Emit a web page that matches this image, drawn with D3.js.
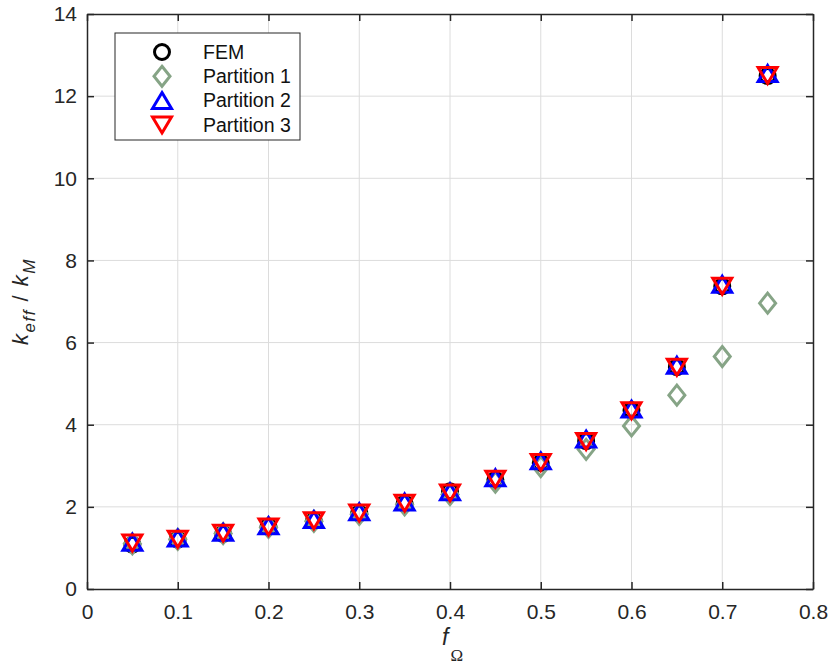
<!DOCTYPE html>
<html>
	<head>
		<meta charset="utf-8">
		<script src="https://d3js.org/d3.v7.min.js"></script>
		<style>
			body {
				margin: 0;
				background-color: white;
			}

			svg {
				display: block;
				font-family: "Liberation Sans", Arial, sans-serif;
			}
		</style>
	</head>
	<body>
		<svg width="829" height="665"></svg>
		<script>
			var fOmega = [0.05, 0.10, 0.15, 0.20, 0.25, 0.30, 0.35, 0.40, 0.45, 0.50, 0.55, 0.60, 0.65, 0.70, 0.75]
			var fem = [1.08, 1.20, 1.34, 1.52, 1.66, 1.84, 2.08, 2.38, 2.66, 3.07, 3.60, 4.35, 5.40, 7.37, 12.49]
			var partition1 = [1.10, 1.21, 1.35, 1.50, 1.65, 1.82, 2.05, 2.30, 2.60, 2.98, 3.40, 3.97, 4.72, 5.66, 6.96]
			var partition2 = [1.14, 1.24, 1.38, 1.54, 1.69, 1.88, 2.12, 2.37, 2.71, 3.12, 3.65, 4.38, 5.45, 7.42, 12.55]
			var partition3 = [1.12, 1.21, 1.36, 1.51, 1.66, 1.85, 2.09, 2.34, 2.67, 3.08, 3.59, 4.34, 5.40, 7.37, 12.50]
			var seriesNames = ["FEM", "Partition 1", "Partition 2", "Partition 3"]
			var xTicks = [0, 0.1, 0.2, 0.3, 0.4, 0.5, 0.6, 0.7, 0.8]
			var yTicks = [0, 2, 4, 6, 8, 10, 12, 14]

			var margin = { left: 87, top: 14, right: 16, bottom: 76 }
			var width = 829 - margin.left - margin.right
			var height = 665 - margin.top - margin.bottom
			var axisColor = "#262626"
			var gridColor = "#dcdcdc"

			var svg = d3.select("svg")
			var g = svg.append("g").attr("transform", "translate(" + margin.left + "," + margin.top + ")")

			var x = d3.scaleLinear().domain([0, 0.8]).range([0, width])
			var y = d3.scaleLinear().domain([0, 14]).range([height, 0])

			// marker shapes, drawn around (0,0)
			var shapes = {
				circle: "M7.5,0A7.5,7.5 0 1,1 -7.5,0A7.5,7.5 0 1,1 7.5,0Z",
				diamond: "M0,-10L8,0L0,10L-8,0Z",
				up: "M0,-8L9.5,8L-9.5,8Z",
				down: "M0,8L9.5,-8L-9.5,-8Z"
			}

			var series = [
				{ name: seriesNames[0], values: fem, shape: "circle", color: "#000000" },
				{ name: seriesNames[1], values: partition1, shape: "diamond", color: "#86a486" },
				{ name: seriesNames[2], values: partition2, shape: "up", color: "#0000ff" },
				{ name: seriesNames[3], values: partition3, shape: "down", color: "#ff0000" }
			]

			// grid
			g.append("g").selectAll("line.gx")
				.data(xTicks.slice(1, -1))
				.join("line")
				.attr("x1", d => x(d)).attr("x2", d => x(d))
				.attr("y1", 0).attr("y2", height)
				.attr("stroke", gridColor).attr("stroke-width", 1)

			g.append("g").selectAll("line.gy")
				.data(yTicks.slice(1, -1))
				.join("line")
				.attr("x1", 0).attr("x2", width)
				.attr("y1", d => y(d)).attr("y2", d => y(d))
				.attr("stroke", gridColor).attr("stroke-width", 1)

			// axes
			function styleAxis(sel) {
				sel.select(".domain").attr("stroke", axisColor).attr("stroke-width", 1.5)
				sel.selectAll(".tick line").attr("stroke", axisColor).attr("stroke-width", 1.5)
				sel.selectAll(".tick text").attr("fill", axisColor).attr("font-size", 21)
			}

			g.append("g")
				.attr("transform", "translate(0," + height + ")")
				.call(d3.axisBottom(x).tickValues(xTicks).tickFormat(d3.format("")).tickSizeInner(-7).tickSizeOuter(0).tickPadding(15))
				.call(styleAxis)

			g.append("g")
				.call(d3.axisLeft(y).tickValues(yTicks).tickSizeInner(-7).tickSizeOuter(0).tickPadding(10))
				.call(styleAxis)

			g.append("g")
				.call(d3.axisTop(x).tickValues(xTicks).tickFormat("").tickSizeInner(-7).tickSizeOuter(0))
				.call(styleAxis)

			g.append("g")
				.attr("transform", "translate(" + width + ",0)")
				.call(d3.axisRight(y).tickValues(yTicks).tickFormat("").tickSizeInner(-7).tickSizeOuter(0))
				.call(styleAxis)

			// markers
			series.forEach(s => {
				g.append("g").selectAll("path")
					.data(s.values)
					.join("path")
					.attr("transform", (d, i) => "translate(" + x(fOmega[i]) + "," + y(d) + ")")
					.attr("d", shapes[s.shape])
					.attr("fill", "none")
					.attr("stroke", s.color)
					.attr("stroke-width", 3)
					.attr("stroke-linejoin", "miter")
			})

			// legend
			var legend = svg.append("g").attr("transform", "translate(115,33)")
			legend.append("rect")
				.attr("width", 185).attr("height", 107)
				.attr("fill", "white").attr("stroke", axisColor).attr("stroke-width", 1)

			var items = legend.selectAll("g.item")
				.data(series)
				.join("g")
				.attr("transform", (d, i) => "translate(0," + (19 + i * 24.3) + ")")

			items.append("path")
				.attr("transform", "translate(47,0)")
				.attr("d", d => shapes[d.shape])
				.attr("fill", "none")
				.attr("stroke", d => d.color)
				.attr("stroke-width", 3)

			items.append("text")
				.attr("x", 88)
				.attr("dy", "0.35em")
				.attr("font-size", 19.5)
				.attr("fill", "#111")
				.text(d => d.name)

			// axis labels
			var xl = svg.append("text")
				.attr("x", 442)
				.attr("y", 645)
				.attr("fill", axisColor)
				.attr("font-size", 23)
			xl.append("tspan").attr("font-style", "italic").text("f")
			xl.append("tspan").attr("dx", 2).attr("dy", 16).attr("font-size", 17)
				.attr("font-family", "'Liberation Serif', serif").text("Ω")

			var yl = svg.append("text")
				.attr("transform", "translate(28," + (margin.top + height / 2) + ") rotate(-90)")
				.attr("text-anchor", "middle")
				.attr("fill", axisColor)
				.attr("font-size", 22)
				.attr("letter-spacing", 1.5)
			yl.append("tspan").attr("font-style", "italic").text("k")
			yl.append("tspan").attr("dy", 7).attr("font-size", 17).attr("font-style", "italic").text("eff")
			yl.append("tspan").attr("dy", -7).text(" / ")
			yl.append("tspan").attr("font-style", "italic").text("k")
			yl.append("tspan").attr("dy", 7).attr("font-size", 17).attr("font-style", "italic").text("M")
		</script>
	</body>
</html>
